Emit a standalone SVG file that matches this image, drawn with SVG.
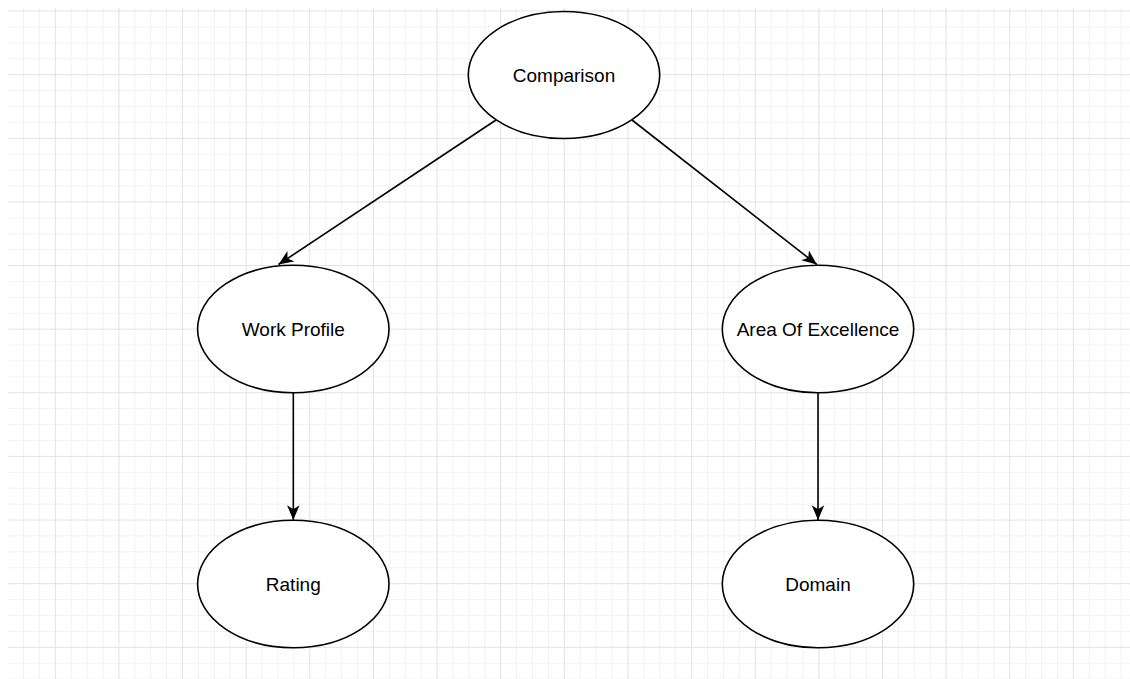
<svg xmlns="http://www.w3.org/2000/svg" width="1130" height="679" viewBox="0 0 1130 679">
  <style>
    .node ellipse { fill: #ffffff; stroke: #000000; stroke-width: 1.6; }
    .node text { font-family: "Liberation Sans", Arial, sans-serif; font-size: 19px; fill: #000000; text-anchor: middle; }
    .edge { fill: none; stroke: #000000; stroke-width: 1.6; marker-end: url(#arrow); }
  </style>
  <defs>
    <pattern id="grid" patternUnits="userSpaceOnUse" x="-8.83" y="-53.13" width="63.63" height="63.63">
      <rect x="15.91" y="0" width="1" height="63.63" fill="#f2f2f2"/>
      <rect x="31.82" y="0" width="1" height="63.63" fill="#f2f2f2"/>
      <rect x="47.72" y="0" width="1" height="63.63" fill="#f2f2f2"/>
      <rect x="0" y="15.91" width="63.63" height="1" fill="#f2f2f2"/>
      <rect x="0" y="31.82" width="63.63" height="1" fill="#f2f2f2"/>
      <rect x="0" y="47.72" width="63.63" height="1" fill="#f2f2f2"/>
      <rect x="0" y="0" width="1" height="63.63" fill="#e2e2e2"/>
      <rect x="0" y="0" width="63.63" height="1" fill="#e2e2e2"/>
    </pattern>
    <marker id="arrow" markerUnits="userSpaceOnUse" markerWidth="16" markerHeight="14" viewBox="0 0 14 12" refX="13" refY="6" orient="auto">
      <path d="M0,0.5 L13,6 L0,11.5 L3.5,6 Z" fill="#000000"/>
    </marker>
  </defs>
  <rect x="0" y="0" width="1130" height="679" fill="#ffffff"/>
  <rect x="8" y="8" width="1122" height="671" fill="url(#grid)"/>

  <g id="connectors">
    <line class="edge" x1="496" y1="120" x2="278.5" y2="264.5"/>
    <line class="edge" x1="632" y1="120" x2="816.8" y2="264.5"/>
    <line class="edge" x1="293.3" y1="393" x2="293.3" y2="520"/>
    <line class="edge" x1="818" y1="393" x2="818" y2="520"/>
  </g>

  <g id="node-comparison" class="node">
    <ellipse cx="564" cy="75" rx="95.7" ry="63.5"/>
    <text x="564" y="82">Comparison</text>
  </g>
  <g id="node-work-profile" class="node">
    <ellipse cx="293.3" cy="329" rx="95.7" ry="63.7"/>
    <text x="293.3" y="336">Work Profile</text>
  </g>
  <g id="node-area-of-excellence" class="node">
    <ellipse cx="818" cy="329" rx="95.7" ry="63.7"/>
    <text x="818" y="336">Area Of Excellence</text>
  </g>
  <g id="node-rating" class="node">
    <ellipse cx="293.3" cy="584" rx="95.7" ry="63.7"/>
    <text x="293.3" y="591">Rating</text>
  </g>
  <g id="node-domain" class="node">
    <ellipse cx="818" cy="584" rx="95.7" ry="63.7"/>
    <text x="818" y="591">Domain</text>
  </g>
</svg>
